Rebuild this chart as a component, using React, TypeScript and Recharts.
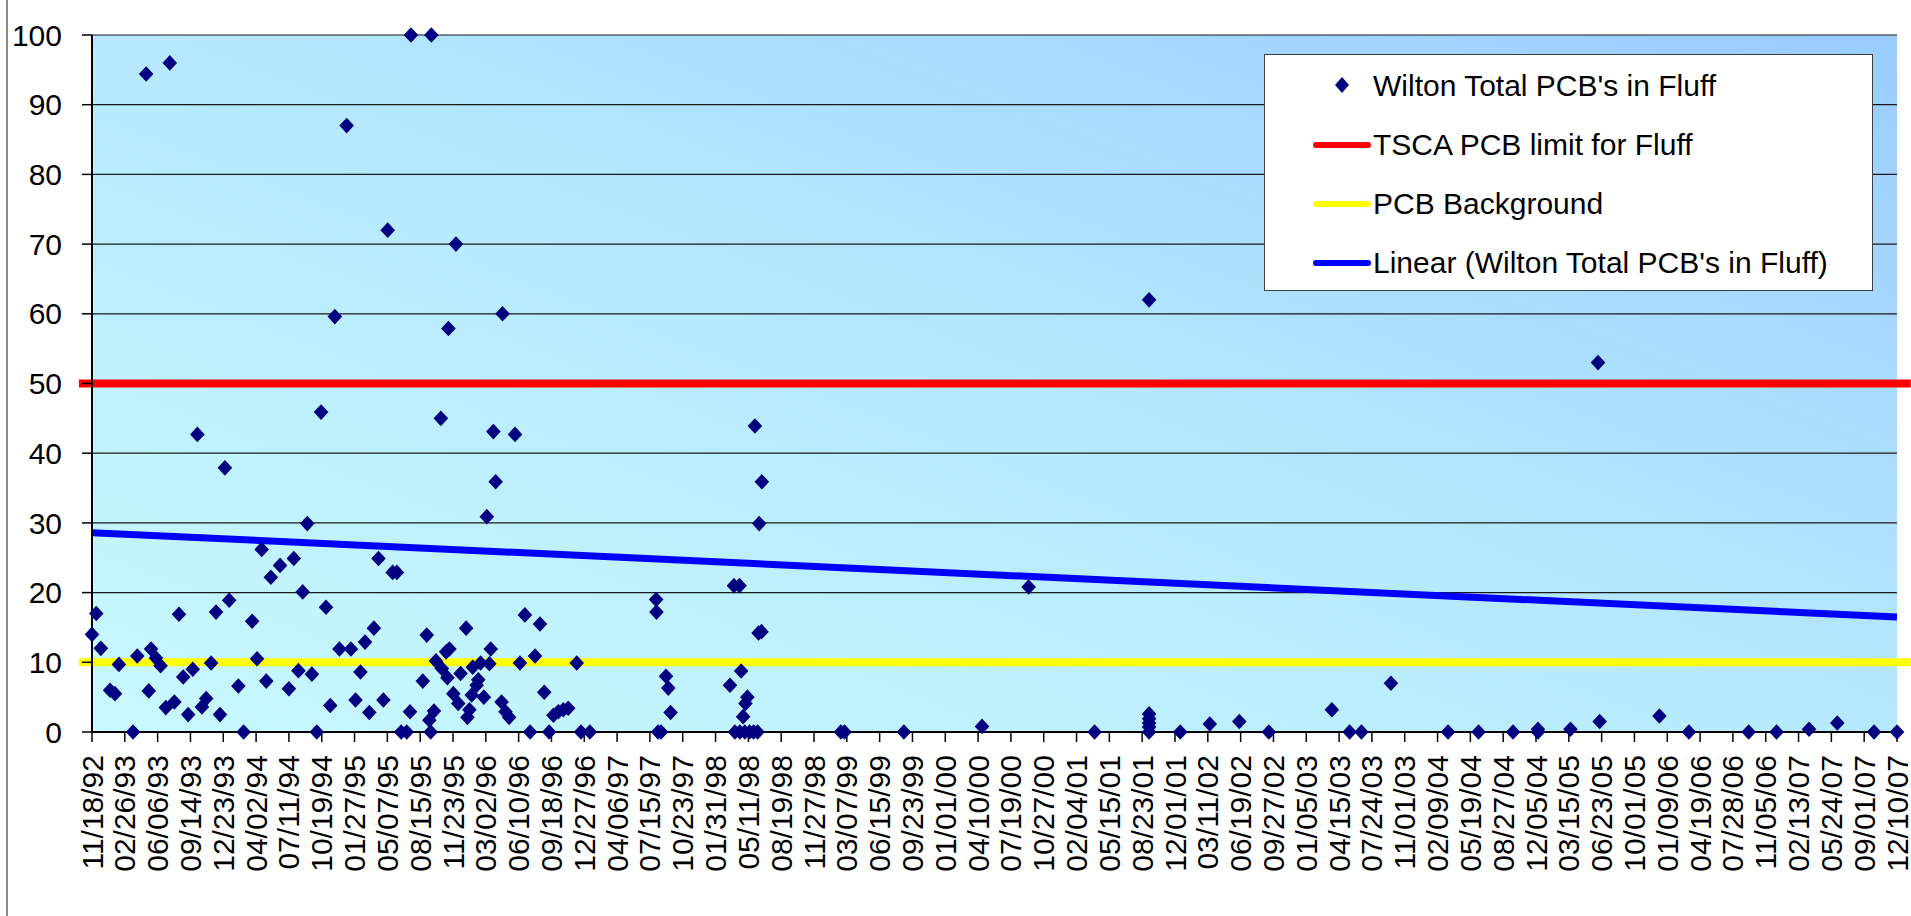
import {
  ComposedChart,
  Scatter,
  XAxis,
  YAxis,
  CartesianGrid,
  ReferenceLine,
  Legend,
} from 'recharts'

const FONT = '"Liberation Sans", Arial, Helvetica, sans-serif'

// x axis tick labels, one every 100 days
const TICK_LABELS = [
  '11/18/92', '02/26/93', '06/06/93', '09/14/93', '12/23/93', '04/02/94', '07/11/94', '10/19/94',
  '01/27/95', '05/07/95', '08/15/95', '11/23/95', '03/02/96', '06/10/96', '09/18/96', '12/27/96',
  '04/06/97', '07/15/97', '10/23/97', '01/31/98', '05/11/98', '08/19/98', '11/27/98', '03/07/99',
  '06/15/99', '09/23/99', '01/01/00', '04/10/00', '07/19/00', '10/27/00', '02/04/01', '05/15/01',
  '08/23/01', '12/01/01', '03/11/02', '06/19/02', '09/27/02', '01/05/03', '04/15/03', '07/24/03',
  '11/01/03', '02/09/04', '05/19/04', '08/27/04', '12/05/04', '03/15/05', '06/23/05', '10/01/05',
  '01/09/06', '04/19/06', '07/28/06', '11/05/06', '02/13/07', '05/24/07', '09/01/07', '12/10/07',
]

const Y_TICKS = [0, 10, 20, 30, 40, 50, 60, 70, 80, 90, 100]

// sample dates as Excel date serials
const SAMPLE_SERIALS = [
  33926, 33939, 33953, 33981, 33996, 34008, 34051, 34064, 34091, 34099,
  34106, 34121, 34135, 34151, 34163, 34177, 34191, 34204, 34219, 34233,
  34247, 34261, 34274, 34289, 34304, 34316, 34331, 34344, 34372, 34388,
  34414, 34429, 34443, 34457, 34471, 34499, 34526, 34541, 34555, 34568,
  34582, 34596, 34611, 34624, 34639, 34652, 34666, 34680, 34702, 34715,
  34729, 34744, 34758, 34771, 34785, 34799, 34814, 34827, 34842, 34855,
  34868, 34885, 34895, 34898, 34934, 34946, 34954, 34958, 34960, 34968,
  34974, 34989, 34992, 35005, 35009, 35012, 35015, 35027, 35035, 35042,
  35049, 35066, 35070, 35076, 35083, 35086, 35098, 35103, 35110, 35120,
  35129, 35137, 35141, 35149, 35156, 35174, 35177, 35186, 35197, 35215,
  35230, 35245, 35261, 35276, 35291, 35304, 35319, 35332, 35347, 35362,
  35377, 35403, 35416, 35443, 35645, 35646, 35651, 35660, 35675, 35682,
  35689, 35870, 35882, 35885, 35899, 35900, 35904, 35910, 35915, 35917,
  35923, 35930, 35942, 35946, 35954, 35957, 35959, 35966, 35967, 36208,
  36219, 36400, 36638, 36780, 36981, 37147, 37147, 37147, 37147, 37147,
  37147, 37242, 37332, 37422, 37512, 37704, 37758, 37794, 37884, 38058,
  38151, 38256, 38332, 38332, 38431, 38515, 38520, 38702, 38792, 38974,
  39059, 39158, 39244, 39356, 39426,
]

// Wilton total PCB's in fluff
const PCB_VALUES = [
  14, 17, 12, 6, 5.5, 9.7, 0, 10.9, 94.4, 5.9,
  11.9, 10.6, 9.5, 3.5, 96, 4.3, 16.9, 7.9, 2.5, 9,
  42.7, 3.6, 4.8, 9.9, 17.2, 2.5, 37.9, 18.9, 6.6, 0,
  15.9, 10.5, 26.2, 7.3, 22.2, 23.9, 6.2, 24.9, 8.8, 20.1,
  29.9, 8.3, 0, 45.9, 17.9, 3.8, 59.6, 11.9, 87, 11.9,
  4.6, 8.6, 12.9, 2.8, 14.9, 24.9, 4.6, 72, 22.9, 22.9,
  0, 0, 2.9, 100, 7.3, 13.9, 1.7, 0, 100, 3,
  10.2, 45, 9.1, 11.5, 7.8, 57.9, 11.9, 5.5, 70, 4.1,
  8.4, 14.9, 2.1, 3.2, 5.3, 9.3, 6.7, 7.5, 9.9, 5,
  30.9, 9.8, 11.9, 43.1, 35.9, 4.3, 60, 2.9, 2.1, 42.7,
  9.9, 16.8, 0, 10.9, 15.5, 5.7, 0, 2.4, 2.9, 3.2,
  3.4, 9.9, 0, 0, 19, 17.2, 0, 0, 8, 6.3,
  2.8, 6.7, 21, 0, 21, 0, 8.75, 2.2, 0, 4.1,
  5, 0, 0, 43.9, 0, 14.2, 29.9, 14.4, 35.9, 0,
  0, 0, 0.8, 20.8, 0, 62, 2.6, 1.9, 1.3, 0.7,
  0, 0, 1.15, 1.5, 0, 3.2, 0, 0, 7, 0,
  0, 0, 0.4, 0, 0.4, 53, 1.5, 2.3, 0, 0,
  0, 0.4, 1.3, 0, 0,
]

const TSCA_LIMIT = 50
const PCB_BACKGROUND = 10
// the two limit series run a little past the axis on both sides
const LIMIT_SPAN = ['10/09/92', '01/21/08']
// linear trendline read at the first and last tick
const TREND_ENDS = [28.6, 16.5]

const LEGEND_ITEMS = [
  { label: "Wilton Total PCB's in Fluff", kind: 'marker', color: '#000080' },
  { label: 'TSCA PCB limit for Fluff', kind: 'line', color: '#FF0000' },
  { label: 'PCB Background', kind: 'line', color: '#FFFF00' },
  { label: "Linear (Wilton Total PCB's in Fluff)", kind: 'line', color: '#0000FF' },
]

function toSerial(label: string): number {
  const [m, d, yy] = label.split('/').map(Number)
  const year = yy < 50 ? 2000 + yy : 1900 + yy
  return Math.round((Date.UTC(year, m - 1, d) - Date.UTC(1899, 11, 30)) / 86400000)
}

const tickSerials = TICK_LABELS.map(toSerial)
const labelBySerial = new Map(tickSerials.map((s, i) => [s, TICK_LABELS[i]]))
const xStart = tickSerials[0]
const xEnd = tickSerials[tickSerials.length - 1]
const limitStart = toSerial(LIMIT_SPAN[0])
const limitEnd = toSerial(LIMIT_SPAN[1])

const points = SAMPLE_SERIALS.map((x, i) => ({ x, y: PCB_VALUES[i] }))

const Diamond = (props: any) => {
  const { cx, cy } = props
  if (cx == null || cy == null) return null
  return (
    <polygon
      points={`${cx},${cy - 7.8} ${cx + 7.3},${cy} ${cx},${cy + 7.8} ${cx - 7.3},${cy}`}
      fill="#000080"
    />
  )
}

const DateTick = ({ x, y, payload }: any) => (
  <text
    x={x}
    y={y}
    transform={`rotate(-90, ${x}, ${y})`}
    textAnchor="end"
    dominantBaseline="central"
    fontSize={30}
    fontFamily={FONT}
    fill="#000"
  >
    {labelBySerial.get(payload.value) ?? ''}
  </text>
)

const LegendBox = () => (
  <div
    style={{
      width: 609,
      height: 237,
      boxSizing: 'border-box',
      background: '#fff',
      border: '1px solid #404040',
      paddingTop: 1,
      fontFamily: FONT,
      fontSize: 30,
      color: '#000',
    }}
  >
    {LEGEND_ITEMS.map((item) => (
      <div key={item.label} style={{ height: 59, display: 'flex', alignItems: 'center', position: 'relative' }}>
        {item.kind === 'marker' ? (
          <svg width={16} height={18} style={{ position: 'absolute', left: 69, top: 20 }}>
            <polygon points="8,1 15,9 8,17 1,9" fill={item.color} />
          </svg>
        ) : (
          <div
            style={{
              position: 'absolute',
              left: 48,
              width: 58,
              height: 6,
              borderRadius: 3,
              background: item.color,
            }}
          />
        )}
        <span style={{ position: 'absolute', left: 108, whiteSpace: 'nowrap' }}>{item.label}</span>
      </div>
    ))}
  </div>
)

export default function App() {
  return (
    <div style={{ position: 'absolute', left: 0, top: 0, width: 1911, height: 916, background: '#fff', overflow: 'hidden' }}>
      <div style={{ position: 'absolute', left: 6, top: 0, width: 2, height: 916, background: '#8c8c8c' }} />
      <ComposedChart width={1911} height={916} margin={{ top: 35, right: 14, bottom: 0, left: 0 }}>
        <defs>
          <linearGradient id="plotBg" x1="0" y1="1" x2="1" y2="0">
            <stop offset="0%" stopColor="#C8F9FF" />
            <stop offset="50%" stopColor="#B6E9FD" />
            <stop offset="100%" stopColor="#99CCFF" />
          </linearGradient>
        </defs>
        <CartesianGrid vertical={false} stroke="#1a1a1a" strokeWidth={1.2} fill="url(#plotBg)" />
        <XAxis
          type="number"
          dataKey="x"
          domain={[xStart, xEnd]}
          ticks={tickSerials}
          interval={0}
          height={184}
          tickSize={10}
          tickMargin={13}
          tick={<DateTick />}
          axisLine={{ stroke: '#000', strokeWidth: 2 }}
          tickLine={{ stroke: '#000', strokeWidth: 1.5 }}
        />
        <XAxis
          xAxisId="top"
          orientation="top"
          type="number"
          domain={[xStart, xEnd]}
          height={0}
          tick={false}
          tickLine={false}
          axisLine={{ stroke: '#8c8c8c', strokeWidth: 2 }}
        />
        <YAxis
          type="number"
          dataKey="y"
          domain={[0, 100]}
          ticks={Y_TICKS}
          interval={0}
          width={92}
          tickSize={10}
          tickMargin={20}
          tick={{ fontSize: 30, fill: '#000', fontFamily: FONT }}
          axisLine={{ stroke: '#000', strokeWidth: 2 }}
          tickLine={{ stroke: '#000', strokeWidth: 1.5 }}
        />
        <YAxis
          yAxisId="right"
          orientation="right"
          type="number"
          domain={[0, 100]}
          width={0}
          tick={false}
          tickLine={false}
          axisLine={{ stroke: '#8c8c8c', strokeWidth: 2 }}
        />
        <ReferenceLine
          segment={[{ x: limitStart, y: TSCA_LIMIT }, { x: limitEnd, y: TSCA_LIMIT }]}
          stroke="#FF0000"
          strokeWidth={8}
          ifOverflow="visible"
        />
        <ReferenceLine
          segment={[{ x: limitStart, y: PCB_BACKGROUND }, { x: limitEnd, y: PCB_BACKGROUND }]}
          stroke="#FFFF00"
          strokeWidth={8}
          ifOverflow="visible"
        />
        <ReferenceLine
          segment={[{ x: xStart, y: TREND_ENDS[0] }, { x: xEnd, y: TREND_ENDS[1] }]}
          stroke="#0000FF"
          strokeWidth={7}
          ifOverflow="visible"
        />
        <Scatter data={points} shape={Diamond} isAnimationActive={false} />
        <Legend
          layout="vertical"
          align="center"
          verticalAlign="middle"
          content={() => <LegendBox />}
          wrapperStyle={{ left: 1264, top: 54, width: 609, height: 237 }}
        />
      </ComposedChart>
    </div>
  )
}
